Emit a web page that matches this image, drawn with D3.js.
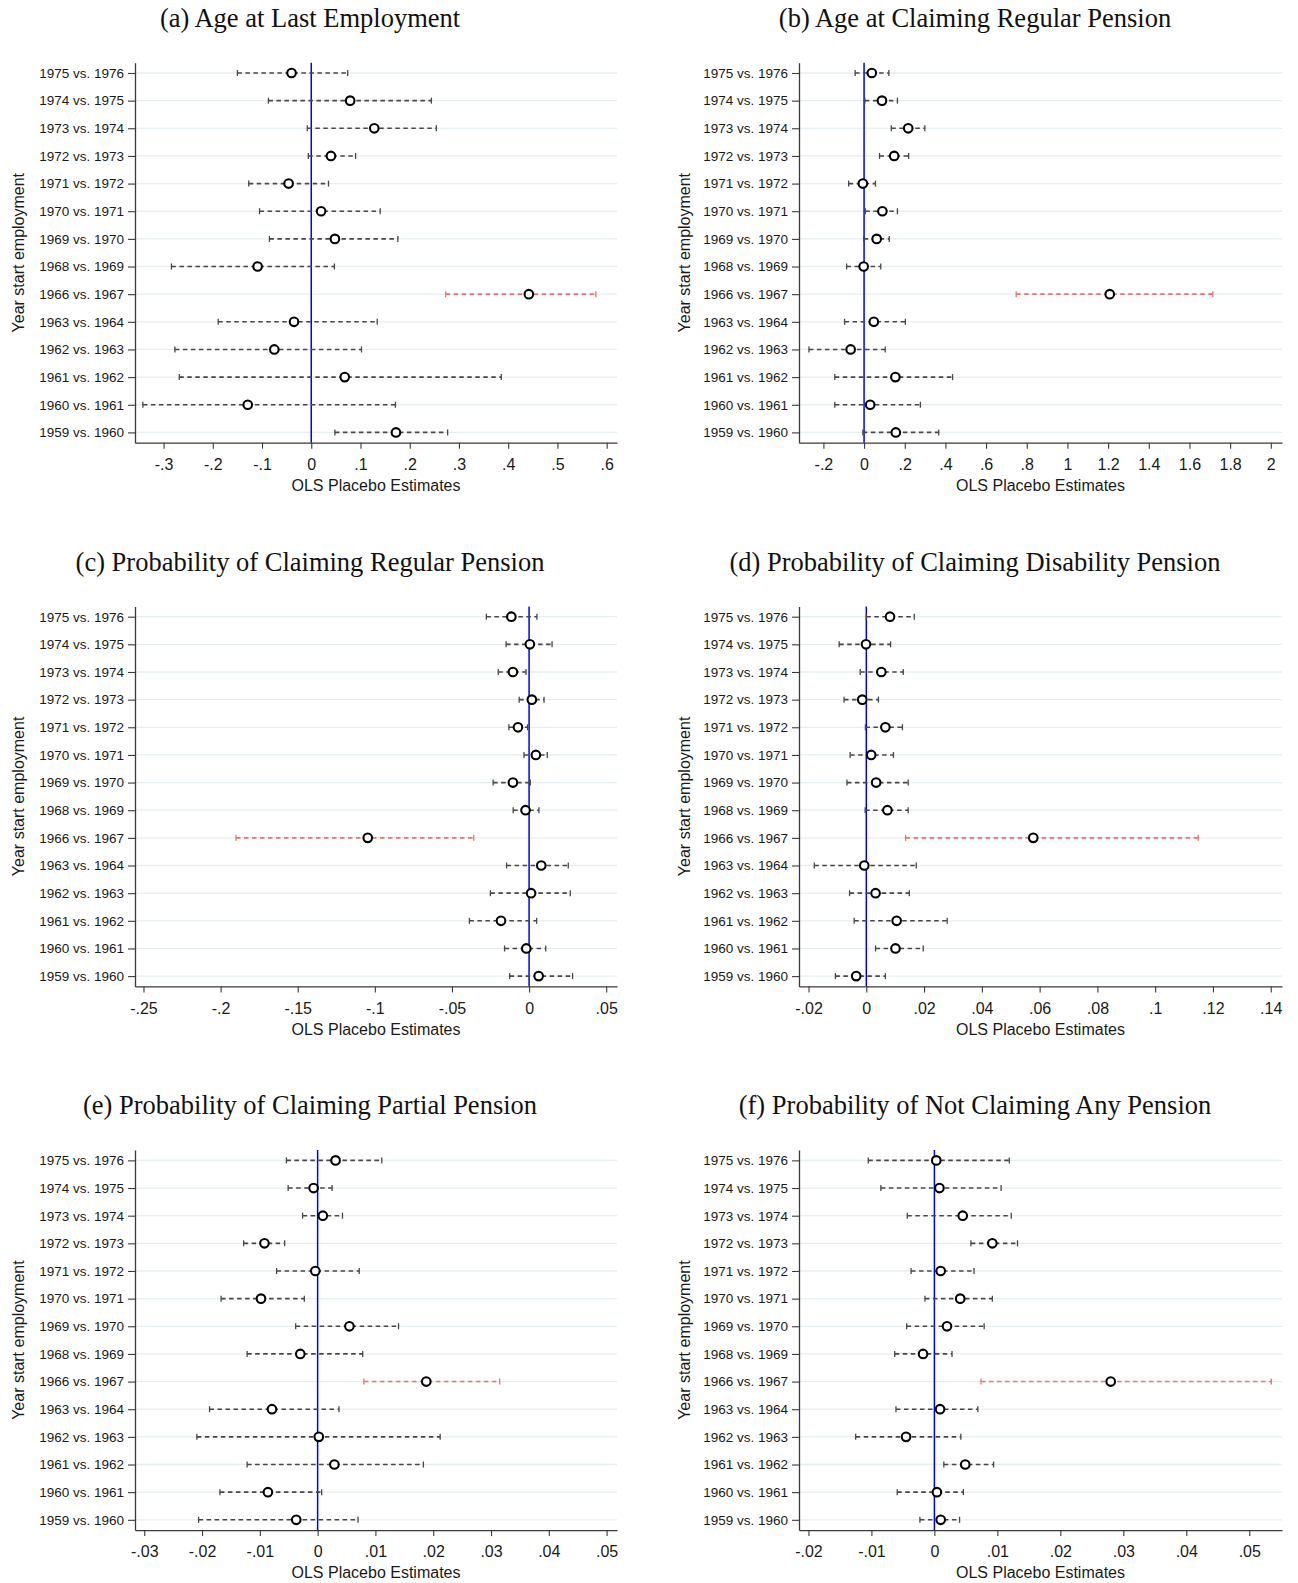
<!DOCTYPE html>
<html>
<head>
<meta charset="utf-8">
<script src="https://cdn.jsdelivr.net/npm/d3@7"></script>
<style>
  body { margin: 0; background: #fff; }
  svg { display: block; }
</style>
</head>
<body>
<svg id="chart" width="1298" height="1583"></svg>
<script>
// Cohort comparisons, listed top to bottom
const comparisons = [
  "1975 vs. 1976", "1974 vs. 1975", "1973 vs. 1974", "1972 vs. 1973",
  "1971 vs. 1972", "1970 vs. 1971", "1969 vs. 1970", "1968 vs. 1969",
  "1966 vs. 1967", "1963 vs. 1964", "1962 vs. 1963", "1961 vs. 1962",
  "1960 vs. 1961", "1959 vs. 1960"
];
const treatedComparison = "1966 vs. 1967";

// (a) Age at last employment
const ageLastEst  = [-0.040, 0.079, 0.128, 0.040, -0.046, 0.020, 0.048, -0.109, 0.442, -0.035, -0.075, 0.068, -0.129, 0.172];
const ageLastLow  = [-0.150, -0.087, -0.008, -0.006, -0.127, -0.105, -0.085, -0.284, 0.273, -0.189, -0.277, -0.268, -0.342, 0.048];
const ageLastHigh = [0.074, 0.244, 0.254, 0.090, 0.035, 0.140, 0.176, 0.047, 0.578, 0.134, 0.102, 0.386, 0.171, 0.277];
const ageLastTicks = [-0.3, -0.2, -0.1, 0, 0.1, 0.2, 0.3, 0.4, 0.5, 0.6];

// (b) Age at claiming regular pension
const ageClaimEst  = [0.038, 0.088, 0.217, 0.148, -0.006, 0.090, 0.062, -0.002, 1.208, 0.048, -0.066, 0.154, 0.030, 0.156];
const ageClaimLow  = [-0.044, 0.004, 0.134, 0.076, -0.076, 0.006, -0.002, -0.086, 0.748, -0.096, -0.271, -0.144, -0.144, -0.006];
const ageClaimHigh = [0.122, 0.164, 0.299, 0.219, 0.056, 0.164, 0.124, 0.082, 1.715, 0.203, 0.104, 0.435, 0.277, 0.367];
const ageClaimTicks = [-0.2, 0, 0.2, 0.4, 0.6, 0.8, 1, 1.2, 1.4, 1.6, 1.8, 2];

// (c) Probability of claiming regular pension
const regularEst  = [-0.0115, 0.0005, -0.0105, 0.0018, -0.0072, 0.0044, -0.0105, -0.0023, -0.1046, 0.0079, 0.0013, -0.0182, -0.0018, 0.0062];
const regularLow  = [-0.0277, -0.0149, -0.0200, -0.0064, -0.0131, -0.0033, -0.0233, -0.0103, -0.1900, -0.0146, -0.0251, -0.0387, -0.0159, -0.0126];
const regularHigh = [0.0051, 0.0149, -0.0020, 0.0097, -0.0010, 0.0118, 0.0008, 0.0064, -0.0359, 0.0254, 0.0267, 0.0049, 0.0108, 0.0282];
const regularTicks = [-0.25, -0.2, -0.15, -0.1, -0.05, 0, 0.05];

// (d) Probability of claiming disability pension
const disabilityEst  = [0.0082, -0.0001, 0.0052, -0.0014, 0.0066, 0.0017, 0.0034, 0.0073, 0.0578, -0.0007, 0.0032, 0.0105, 0.0101, -0.0035];
const disabilityLow  = [0.0000, -0.0094, -0.0021, -0.0077, -0.0003, -0.0056, -0.0067, -0.0004, 0.0136, -0.0180, -0.0058, -0.0042, 0.0032, -0.0107];
const disabilityHigh = [0.0166, 0.0084, 0.0128, 0.0042, 0.0125, 0.0094, 0.0145, 0.0145, 0.1149, 0.0173, 0.0149, 0.0280, 0.0197, 0.0066];
const disabilityTicks = [-0.02, 0, 0.02, 0.04, 0.06, 0.08, 0.1, 0.12, 0.14];

// (e) Probability of claiming partial pension
const partialEst  = [0.0031, -0.0007, 0.0009, -0.0092, -0.0004, -0.0098, 0.0055, -0.0030, 0.0188, -0.0079, 0.0002, 0.0029, -0.0086, -0.0037];
const partialLow  = [-0.0054, -0.0051, -0.0026, -0.0128, -0.0071, -0.0167, -0.0038, -0.0122, 0.0080, -0.0187, -0.0209, -0.0122, -0.0169, -0.0206];
const partialHigh = [0.0111, 0.0025, 0.0043, -0.0057, 0.0072, -0.0023, 0.0140, 0.0078, 0.0315, 0.0037, 0.0212, 0.0183, 0.0007, 0.0070];
const partialTicks = [-0.03, -0.02, -0.01, 0, 0.01, 0.02, 0.03, 0.04, 0.05];

// (f) Probability of not claiming any pension
const noneEst  = [0.0003, 0.0008, 0.0045, 0.0092, 0.0010, 0.0041, 0.0020, -0.0018, 0.0280, 0.0009, -0.0045, 0.0049, 0.0004, 0.0010];
const noneLow  = [-0.0105, -0.0085, -0.0043, 0.0058, -0.0037, -0.0015, -0.0044, -0.0063, 0.0074, -0.0061, -0.0125, 0.0015, -0.0059, -0.0023];
const noneHigh = [0.0119, 0.0106, 0.0122, 0.0132, 0.0063, 0.0092, 0.0079, 0.0028, 0.0535, 0.0069, 0.0042, 0.0094, 0.0046, 0.0040];
const noneTicks = [-0.02, -0.01, 0, 0.01, 0.02, 0.03, 0.04, 0.05];

const panels = [
  { title: "(a) Age at Last Employment", est: ageLastEst, low: ageLastLow, high: ageLastHigh, ticks: ageLastTicks, domain: [-0.358, 0.621], col: 0, row: 0 },
  { title: "(b) Age at Claiming Regular Pension", est: ageClaimEst, low: ageClaimLow, high: ageClaimHigh, ticks: ageClaimTicks, domain: [-0.32, 2.055], col: 1, row: 0 },
  { title: "(c) Probability of Claiming Regular Pension", est: regularEst, low: regularLow, high: regularHigh, ticks: regularTicks, domain: [-0.2555, 0.057], col: 0, row: 1 },
  { title: "(d) Probability of Claiming Disability Pension", est: disabilityEst, low: disabilityLow, high: disabilityHigh, ticks: disabilityTicks, domain: [-0.0233, 0.1439], col: 1, row: 1 },
  { title: "(e) Probability of Claiming Partial Pension", est: partialEst, low: partialLow, high: partialHigh, ticks: partialTicks, domain: [-0.0316, 0.0518], col: 0, row: 2 },
  { title: "(f) Probability of Not Claiming Any Pension", est: noneEst, low: noneLow, high: noneHigh, ticks: noneTicks, domain: [-0.0215, 0.0552], col: 1, row: 2 }
];

// Page geometry
const columns = [
  { axisX: 135, rightX: 617, titleX: 310, yTitleX: 18 },
  { axisX: 799, rightX: 1282, titleX: 975, yTitleX: 684 }
];
const rowOffset = 543.7;
const plotTop = 62.7, plotBottom = 442.7;

const sans = "'Liberation Sans', Arial, sans-serif";
const serif = "'Liberation Serif', 'Times New Roman', serif";
const axisColor = "#3a3a3a";
const gridColor = "#e5eef0";
const ciColor = "#474747";
const ciHighlight = "#f07070";

// Stata-style tick labels: ".2", "-.05", "1.2"
function stataLabel(v) {
  const s = (+v.toFixed(4)).toString();
  return s.replace(/^(-?)0\./, "$1.");
}

const svg = d3.select("#chart");

panels.forEach(p => {
  const c = columns[p.col];
  const off = p.row * rowOffset;
  const top = plotTop + off, bottom = plotBottom + off;

  const x = d3.scaleLinear().domain(p.domain).range([c.axisX, c.rightX]);
  const y = d3.scalePoint().domain(comparisons).range([top, bottom]).padding(0.372);

  const g = svg.append("g");

  // Title
  g.append("text")
    .attr("x", c.titleX).attr("y", 27 + off)
    .attr("text-anchor", "middle")
    .style("font-family", serif).style("font-size", "26.5px").style("fill", "#111")
    .text(p.title);

  // Horizontal grid at each comparison
  g.append("g").selectAll("line").data(comparisons).join("line")
    .attr("x1", c.axisX).attr("x2", c.rightX)
    .attr("y1", d => y(d)).attr("y2", d => y(d))
    .attr("stroke", gridColor).attr("stroke-width", 1.3);

  // Reference line at zero
  g.append("line")
    .attr("x1", x(0)).attr("x2", x(0))
    .attr("y1", top).attr("y2", bottom)
    .attr("stroke", "#0000ff").attr("stroke-width", 1.5);

  const rows = comparisons.map((label, i) => ({ label, est: p.est[i], low: p.low[i], high: p.high[i] }));
  const colorOf = d => d.label === treatedComparison ? ciHighlight : ciColor;

  // Confidence intervals
  g.append("g").selectAll("line").data(rows).join("line")
    .attr("x1", d => x(d.low)).attr("x2", d => x(d.high))
    .attr("y1", d => y(d.label)).attr("y2", d => y(d.label))
    .attr("stroke", colorOf).attr("stroke-width", 1.6)
    .attr("stroke-dasharray", "4.5,3.5");

  // Interval caps
  const caps = rows.flatMap(d => [{ label: d.label, v: d.low }, { label: d.label, v: d.high }]);
  g.append("g").selectAll("line").data(caps).join("line")
    .attr("x1", d => x(d.v)).attr("x2", d => x(d.v))
    .attr("y1", d => y(d.label) - 3).attr("y2", d => y(d.label) + 3)
    .attr("stroke", colorOf).attr("stroke-width", 1.3);

  // Point estimates
  g.append("g").selectAll("circle").data(rows).join("circle")
    .attr("cx", d => x(d.est)).attr("cy", d => y(d.label))
    .attr("r", 4.3)
    .attr("fill", "#fff").attr("stroke", "#000").attr("stroke-width", 2.1);

  // X axis
  const xAxis = g.append("g")
    .attr("transform", `translate(0,${bottom})`)
    .call(d3.axisBottom(x).tickValues(p.ticks).tickFormat(stataLabel).tickSize(6).tickSizeOuter(0).tickPadding(10));
  xAxis.select(".domain").attr("stroke", axisColor).attr("stroke-width", 1.3);
  xAxis.selectAll(".tick line").attr("stroke", axisColor).attr("stroke-width", 1.1);
  xAxis.selectAll(".tick text")
    .style("font-family", sans).style("font-size", "16px").style("fill", "#1a1a1a");

  // Y axis
  const yAxis = g.append("g")
    .attr("transform", `translate(${c.axisX},0)`)
    .call(d3.axisLeft(y).tickSize(7).tickSizeOuter(0).tickPadding(4));
  yAxis.select(".domain").attr("stroke", axisColor).attr("stroke-width", 1.3);
  yAxis.selectAll(".tick line").attr("stroke", axisColor).attr("stroke-width", 1.1);
  yAxis.selectAll(".tick text")
    .style("font-family", sans).style("font-size", "13.5px").style("fill", "#1a1a1a");

  // Axis titles
  g.append("text")
    .attr("x", (c.axisX + c.rightX) / 2).attr("y", 491 + off)
    .attr("text-anchor", "middle")
    .style("font-family", sans).style("font-size", "16px").style("fill", "#1a1a1a")
    .text("OLS Placebo Estimates");

  g.append("text")
    .attr("transform", `translate(${c.yTitleX + 6},${(top + bottom) / 2}) rotate(-90)`)
    .attr("text-anchor", "middle")
    .style("font-family", sans).style("font-size", "16px").style("fill", "#1a1a1a")
    .text("Year start employment");
});
</script>
</body>
</html>
